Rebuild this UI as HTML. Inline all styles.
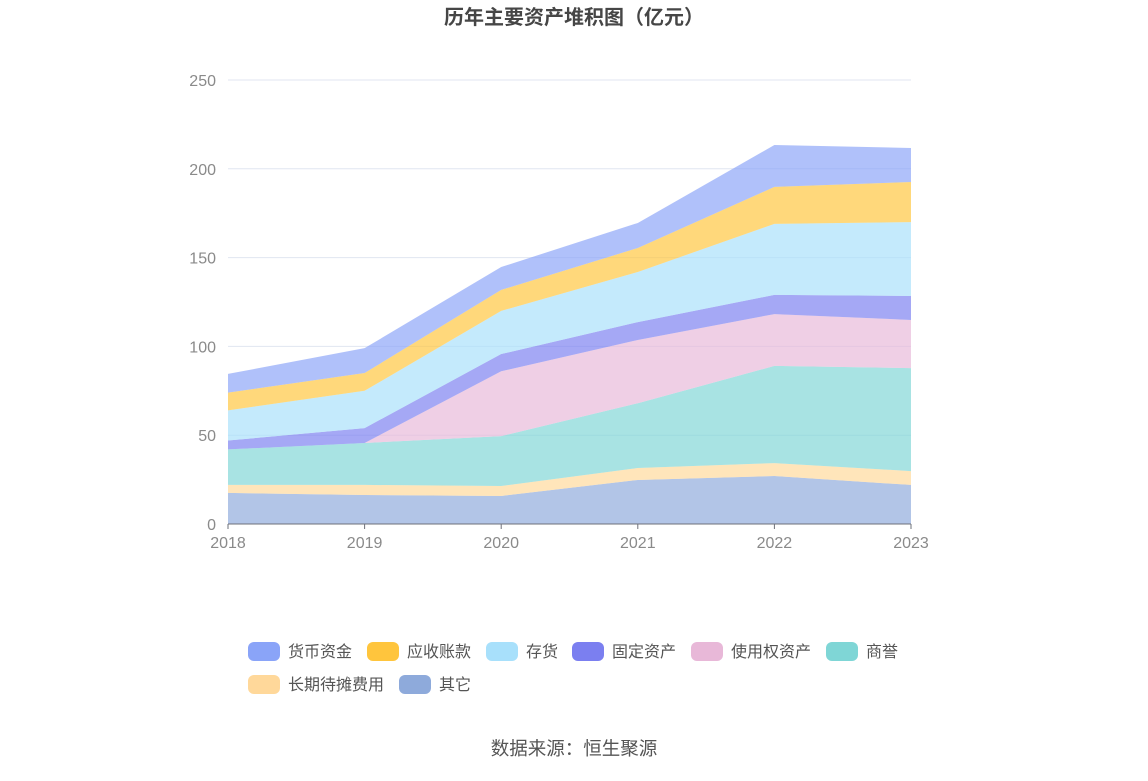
<!DOCTYPE html>
<html><head><meta charset="utf-8"><style>
body{margin:0;background:#fff;width:1148px;height:776px;overflow:hidden;font-family:"Liberation Sans","Noto Sans CJK SC",sans-serif}
</style></head><body>
<svg width="1148" height="776" id="chart" font-family="Liberation Sans, Noto Sans CJK SC, sans-serif">
<text x="574" y="24" text-anchor="middle" font-size="20" font-weight="bold" fill="#464646">历年主要资产堆积图（亿元）</text>
<g id="grid"></g><g id="areas"></g><g id="axes"></g><g id="legend"></g>
<text x="574" y="755" text-anchor="middle" font-size="18.5" fill="#555">数据来源：恒生聚源</text>
</svg>
<script>
const years=["2018","2019","2020","2021","2022","2023"];
const yTicks=[0,50,100,150,200,250];
const seriesNames=["其它","长期待摊费用","商誉","使用权资产","固定资产","存货","应收账款","货币资金"];
const other=[17.5,16.3,15.8,24.8,27,22];
const prepaid=[4.5,5.7,5.6,6.7,7.3,7.8];
const goodwill=[20,23.6,28.1,36.5,54.7,58];
const rou=[0,0,36.5,35.6,29.2,27.1];
const fixed=[5,8.4,9.7,10.1,10.8,13.5];
const inventory=[17,21,24.3,28.2,40,41.6];
const receivable=[10,10,11.8,13.5,20.8,22.6];
const cash=[10.5,14,12.9,14.1,23.6,19.1];
const data=[other,prepaid,goodwill,rou,fixed,inventory,receivable,cash];
const colors=["#8eaadb","#ffd89a","#7fd6d6","#e8b8d8","#7b7ff0","#a8e0fb","#ffc53d","#8aa4f8"];
const keys=["other","prepaid","goodwill","rou","fixed","inventory","receivable","cash"];
const NS="http://www.w3.org/2000/svg";
const x0=228,x1=911,yb=524,yt=80,yMax=250;
const xs=i=>x0+(x1-x0)*i/(years.length-1);
const ys=v=>yb-(yb-yt)*v/yMax;
function mk(t,a,p){const e=document.createElementNS(NS,t);for(const k in a)e.setAttribute(k,a[k]);p.appendChild(e);return e;}
const grid=document.getElementById('grid'),axes=document.getElementById('axes'),areas=document.getElementById('areas'),leg=document.getElementById('legend');
yTicks.forEach(t=>{
 if(t>0){const l=mk('line',{x1:x0,x2:x1,y1:ys(t),y2:ys(t),stroke:'#e0e6f1'},grid);
 
 }
 const tx=mk('text',{x:216,y:ys(t)+6,'text-anchor':'end','font-size':16,fill:'#8a8a8a'},axes);tx.textContent=t;
 
 
});
let cum=years.map(()=>0);
data.forEach((s,si)=>{
 const lo=cum.slice();const hi=cum.map((c,i)=>c+s[i]);
 let d='M'+hi.map((v,i)=>xs(i)+','+ys(v)).join('L');
 for(let i=years.length-1;i>=0;i--)d+='L'+xs(i)+','+ys(lo[i]);
 const p=mk('path',{d:d+'Z',fill:colors[si],'fill-opacity':0.68},areas);
 
 
 cum=hi;
});
const ax=mk('line',{x1:x0,x2:x1,y1:yb,y2:yb,stroke:'#6e7079'},axes);


years.forEach((y,i)=>{
 mk('line',{x1:xs(i),x2:xs(i),y1:yb,y2:yb+5,stroke:'#6e7079'},axes);
 const t=mk('text',{x:xs(i),y:548,'text-anchor':'middle','font-size':16,fill:'#8a8a8a'},axes);t.textContent=y;
 
 
});
const legPos=[[399,684],[248,684],[826,651],[691,651],[572,651],[486,651],[367,651],[248,651]];
seriesNames.forEach((n,si)=>{
 const [lx,ly]=legPos[si];
 const g=mk('g',{},leg);
 
 
 mk('rect',{x:lx,y:ly-9,width:32,height:19,rx:6,fill:colors[si]},g);
 const t=mk('text',{x:lx+40,y:ly+6,'font-size':16,fill:'#555'},g);t.textContent=n;
});
</script>
</body></html>
